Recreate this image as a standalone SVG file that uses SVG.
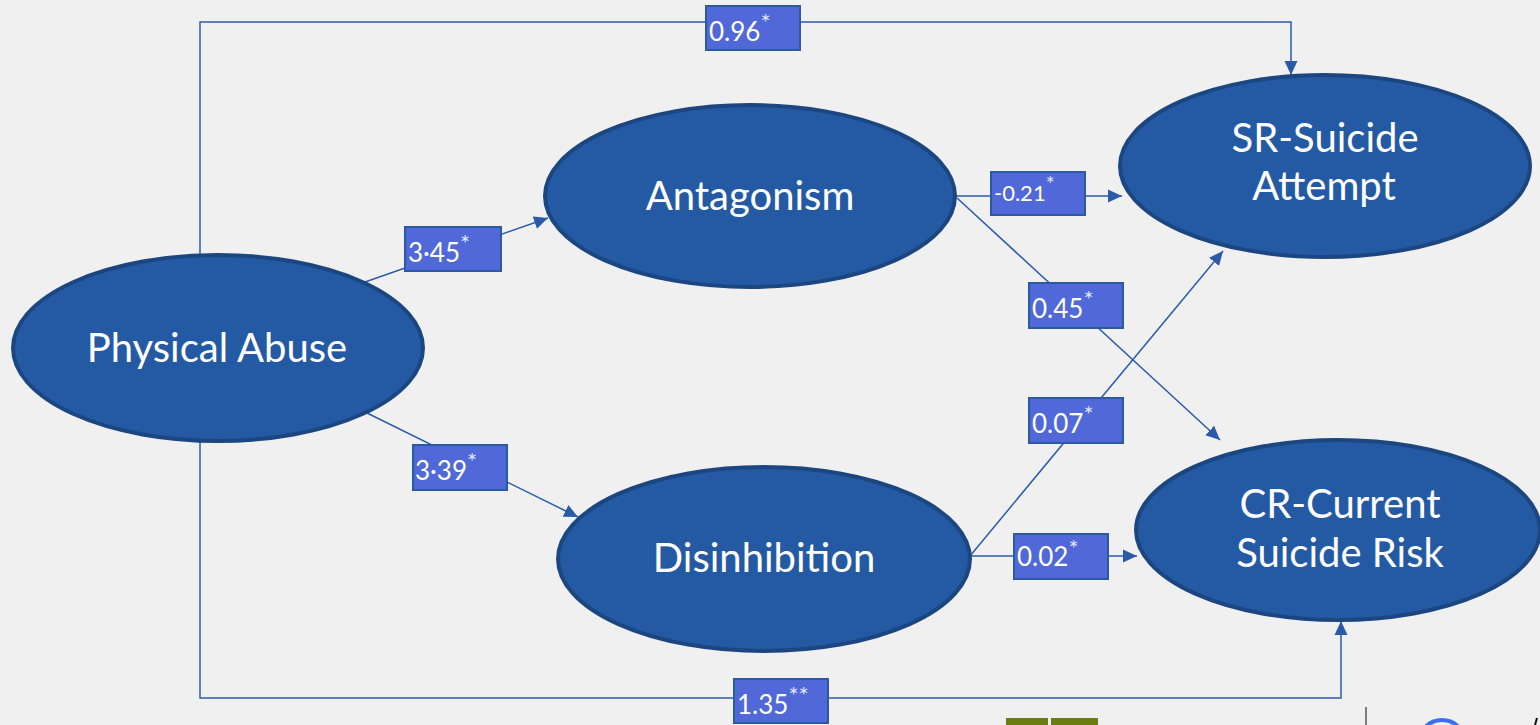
<svg xmlns="http://www.w3.org/2000/svg" width="1540" height="725" viewBox="0 0 1540 725">
  <defs>
    <marker id="arrow" viewBox="0 0 14 14" refX="14" refY="7" markerWidth="14" markerHeight="14" markerUnits="userSpaceOnUse" orient="auto">
      <path d="M0,0.5 L14,7 L0,13.5 Z" fill="#2a5ba8"/>
    </marker>
    <style>
      .node ellipse { fill: #245aa4; stroke: #1c4680; stroke-width: 4; }
      .node text { fill: #ffffff; font-family: Lato, "Open Sans", sans-serif; font-size: 40px; text-anchor: middle; }
      .edge { fill: none; stroke: #2a5ba8; stroke-width: 1.5; }
      .lbl rect { fill: #5068d8; stroke: #2c5aa0; stroke-width: 2; }
      .lbl text { fill: #ffffff; font-family: Lato, "Open Sans", sans-serif; font-size: 26px; }
      .lbl tspan.sup { font-size: 24px; fill: #dfe4ff; }
    </style>
  </defs>

  <rect x="0" y="0" width="1540" height="725" fill="#f0f0f0"/>

  <!-- connectors -->
  <g id="connectors">
    <path class="edge" d="M200,255 V22 H1291 V75" marker-end="url(#arrow)"/>
    <path class="edge" d="M200,440 V698 H1341 V621" marker-end="url(#arrow)"/>
    <path class="edge" d="M365,282 L548,218" marker-end="url(#arrow)"/>
    <path class="edge" d="M365,412 L578,517" marker-end="url(#arrow)"/>
    <path class="edge" d="M956,196 H1122" marker-end="url(#arrow)"/>
    <path class="edge" d="M957,198 L1220,440" marker-end="url(#arrow)"/>
    <path class="edge" d="M970,556 L1223,251" marker-end="url(#arrow)"/>
    <path class="edge" d="M970,556 H1137" marker-end="url(#arrow)"/>
  </g>

  <!-- nodes -->
  <g id="physical-abuse" class="node">
    <ellipse cx="218" cy="348" rx="205" ry="93"/>
    <text x="217" y="362">Physical Abuse</text>
  </g>
  <g id="antagonism" class="node">
    <ellipse cx="750" cy="196" rx="205" ry="91"/>
    <text x="750" y="210">Antagonism</text>
  </g>
  <g id="disinhibition" class="node">
    <ellipse cx="764" cy="559" rx="206" ry="92"/>
    <text x="764" y="572">Disinhibition</text>
  </g>
  <g id="sr-suicide-attempt" class="node">
    <ellipse cx="1325" cy="166" rx="205" ry="91"/>
    <text x="1325" y="152">SR-Suicide</text>
    <text x="1324" y="200">Attempt</text>
  </g>
  <g id="cr-current-suicide-risk" class="node">
    <ellipse cx="1338" cy="530" rx="202" ry="90"/>
    <text x="1340" y="518">CR-Current</text>
    <text x="1340" y="567">Suicide Risk</text>
  </g>

  <!-- path coefficients -->
  <g id="lbl-096" class="lbl">
    <rect x="706" y="6" width="94" height="44"/>
    <text x="709" y="41">0.96<tspan class="sup" dy="-10">*</tspan></text>
  </g>
  <g id="lbl-345" class="lbl">
    <rect x="405" y="227" width="96" height="44"/>
    <text x="408" y="262">3·45<tspan class="sup" dy="-10">*</tspan></text>
  </g>
  <g id="lbl-339" class="lbl">
    <rect x="413" y="445" width="94" height="45"/>
    <text x="415" y="480">3·39<tspan class="sup" dy="-10">*</tspan></text>
  </g>
  <g id="lbl-021" class="lbl">
    <rect x="991" y="172" width="94" height="43"/>
    <text x="994" y="201" style="font-size:22px">-0.21<tspan class="sup" dy="-9" style="font-size:21px">*</tspan></text>
  </g>
  <g id="lbl-045" class="lbl">
    <rect x="1029" y="283" width="94" height="45"/>
    <text x="1032" y="318">0.45<tspan class="sup" dy="-10">*</tspan></text>
  </g>
  <g id="lbl-007" class="lbl">
    <rect x="1029" y="398" width="94" height="45"/>
    <text x="1032" y="433">0.07<tspan class="sup" dy="-10">*</tspan></text>
  </g>
  <g id="lbl-002" class="lbl">
    <rect x="1014" y="534" width="94" height="45"/>
    <text x="1017" y="566">0.02<tspan class="sup" dy="-9">*</tspan></text>
  </g>
  <g id="lbl-135" class="lbl">
    <rect x="734" y="679" width="94" height="44"/>
    <text x="737" y="714">1.35<tspan class="sup" dy="-10">**</tspan></text>
  </g>

  <!-- screen edge fragments along the bottom -->
  <rect x="1006" y="718" width="42" height="7" fill="#6b7d12"/>
  <rect x="1051" y="718" width="47" height="7" fill="#6b7d12"/>
  <line x1="1366" y1="707" x2="1366" y2="725" stroke="#555555" stroke-width="1.5"/>
  <ellipse cx="1442" cy="740" rx="22" ry="20" fill="none" stroke="#3a6ff0" stroke-width="4"/>
  <line x1="1537" y1="718" x2="1535" y2="725" stroke="#111111" stroke-width="2"/>
</svg>
